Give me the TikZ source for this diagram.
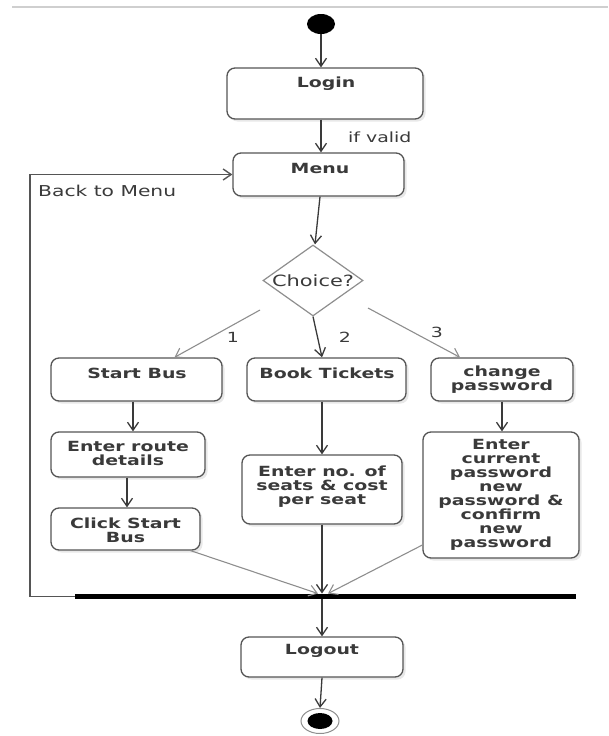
\documentclass[tikz,border=0pt]{standalone}
\usepackage{fontspec}
\setmainfont{DejaVu Sans}[FakeStretch=1.35]
\usetikzlibrary{arrows.meta,shapes.geometric,shadows,calc}
\definecolor{ink}{HTML}{3A3A3A}
\definecolor{edge}{HTML}{555555}
\definecolor{soft}{HTML}{8E8E8E}
\definecolor{rule}{HTML}{CFCFCF}
\tikzset{
  actbox/.style={draw=edge, line width=1.3pt, rounded corners=8pt, fill=white, inner sep=0pt,
    drop shadow={opacity=0.18, shadow xshift=2.5pt, shadow yshift=-2.5pt}},
  lbl/.style={text=ink, font=\bfseries\fontsize{14}{14}\selectfont, align=center, inner sep=0pt},
  plain/.style={text=ink, font=\fontsize{14}{14}\selectfont, inner sep=0pt},
  flow/.style={draw=ink, line width=1.3pt, -{Straight Barb[length=8pt,width=11pt]}},
  flowsoft/.style={draw=soft, line width=1.1pt, -{Straight Barb[length=8pt,width=11pt]}},
}
\begin{document}
\begin{tikzpicture}[x=1pt,y=-1pt]
\useasboundingbox (0,0) rectangle (608,736);
% page edge
\draw[rule, line width=1.2pt] (12,7) -- (608,7);

% start
\node[ellipse, fill=black, minimum width=28pt, minimum height=20pt, inner sep=0pt] (start) at (321,24) {};

% boxes
\node[actbox, minimum width=196pt, minimum height=51pt] (login) at (325,93.5) {};
\node[lbl] (loginT) at (326,84) {Login};
\node[actbox, minimum width=171pt, minimum height=43pt] (menu) at (318.5,174.5) {};
\node[lbl] (menuT) at (320,168) {Menu};

\node[diamond, draw=soft, line width=1.2pt, aspect=1.4, inner sep=0pt,
      minimum width=100pt, minimum height=71pt, text=ink,
      font=\fontsize{15.5}{15.5}\selectfont] (choice) at (313,280.5) {Choice?};

\node[actbox, minimum width=171pt, minimum height=43pt] (startbus) at (136.5,379.5) {};
\node[lbl] (startbusT) at (137,373) {Start Bus};
\node[actbox, minimum width=159pt, minimum height=43pt] (book) at (326.5,379.5) {};
\node[lbl] (bookT) at (327,373) {Book Tickets};
\node[actbox, minimum width=142pt, minimum height=43pt] (chpw) at (502,379.5) {};
\node[lbl] (chpwT) at (502,380) {change\\password};

\node[actbox, minimum width=154pt, minimum height=45pt] (route) at (128,454.5) {};
\node[lbl] (routeT) at (128,453) {Enter route\\details};
\node[actbox, minimum width=149pt, minimum height=42pt] (click) at (125.5,529) {};
\node[lbl] (clickT) at (125.5,530) {Click Start\\Bus};

\node[actbox, minimum width=160pt, minimum height=69pt] (seats) at (322,489.5) {};
\node[lbl] (seatsT) at (322,486.5) {Enter no. of\\seats \& cost\\per seat};

\node[actbox, minimum width=156pt, minimum height=126pt] (curpw) at (501,495) {};
\node[lbl] (curpwT) at (501,495) {Enter\\current\\password\\new\\password \&\\confirm\\new\\password};

% join bar
\node[fill=black, minimum width=501pt, minimum height=5.5pt, inner sep=0pt] (bar) at (325.5,596.5) {};

\node[actbox, minimum width=162pt, minimum height=40pt] (logout) at (322,657) {};
\node[lbl] (logoutT) at (322,651) {Logout};

% end
\node[ellipse, draw=soft, line width=1pt, fill=white, minimum width=38pt, minimum height=25pt, inner sep=0pt] (end) at (320,721) {};
\node[ellipse, fill=black, minimum width=25pt, minimum height=16pt, inner sep=0pt] (endIn) at (320,721) {};

% connectors
\draw[flow] (start.south) -- (start.south |- login.north);
\draw[flow] (login.south -| start) -- (menu.north -| start);
\node[plain, anchor=west] (ifvalid) at (348,137) {if valid};
\draw[flow] ([xshift=1.5pt]menu.south) -- ([xshift=2pt]choice.north);

\coordinate (c1) at (260,310);
\coordinate (c3) at (368,308);
\draw[flowsoft] (c1) -- ([xshift=38pt]startbus.north);
\draw[flow] (choice.south) -- ([xshift=-4.5pt]book.north);
\draw[flowsoft] (c3) -- ([xshift=-42pt]chpw.north);
\node[plain] (one) at (233,337) {1};
\node[plain] (two) at (345,337) {2};
\node[plain] (three) at (437,332) {3};

\draw[flow] ([xshift=-3.5pt]startbus.south) -- ([xshift=5pt]route.north);
\draw[flow] ([xshift=-1pt]route.south) -- ([xshift=1.5pt]click.north);
\draw[flow] (book.south -| seats.north) -- (seats.north);
\draw[flow] (chpw.south) -- (chpw.south |- curpw.north);

\draw[flowsoft] ([xshift=-10pt]click.south east) -- ([xshift=-7.5pt]bar.north);
\draw[flow] (seats.south) -- (seats.south |- bar.north);
\draw[flowsoft] ([yshift=-50pt]curpw.west) -- ([xshift=2.5pt]bar.north);

\draw[flow] (bar.south -| logout.north) -- (logout.north);
\draw[flow] (logout.south) -- (end.north);

% back to menu loop
\draw[draw=edge, line width=1.4pt, -{Straight Barb[length=8pt,width=11pt]}]
  (bar.west) -- ++(-45,0) |- (menu.west);
\node[plain, anchor=west, font=\fontsize{15}{15}\selectfont] (backT) at (38,191) {Back to Menu};
\end{tikzpicture}
\end{document}
